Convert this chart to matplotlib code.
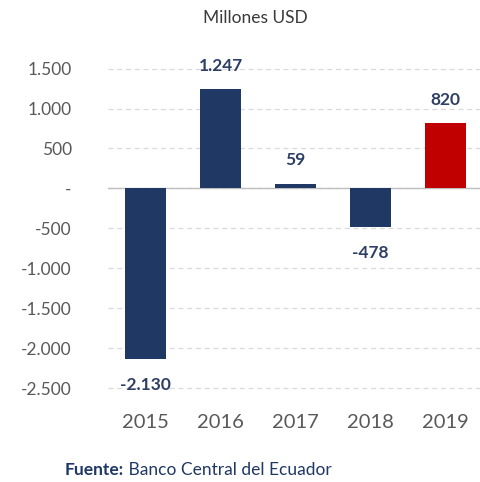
import matplotlib.pyplot as plt
from matplotlib.ticker import FuncFormatter

years = ['2015', '2016', '2017', '2018', '2019']
values = [-2130, 1247, 59, -478, 820]
bar_colors = ['#1F3864', '#1F3864', '#1F3864', '#1F3864', '#C00000']
yticks = [-2500, -2000, -1500, -1000, -500, 0, 500, 1000, 1500]

plt.rcParams['font.family'] = ['Lato', 'DejaVu Sans']

def fmt(v):
    # thousands with a dot, zero shown as a dash
    if v == 0:
        return '-'
    s = f'{abs(int(v)):,}'.replace(',', '.')
    return ('-' if v < 0 else '') + s

fig = plt.figure(figsize=(4.81, 4.82), dpi=100)
ax = fig.add_axes([0.2245, 0.17, 0.78, 0.725])

x = range(len(years))
ax.bar(x, values, width=0.55, color=bar_colors, zorder=3)

for xi, v in zip(x, values):
    off = 11 if v >= 0 else -13
    ax.annotate(fmt(v), (xi, v), xytext=(0, off), textcoords='offset points',
                ha='center', va='bottom' if v >= 0 else 'top',
                fontsize=12.5, fontweight='bold', color='#2E3F66')

ax.set_xlim(-0.5, 4.5)
ax.set_ylim(-2650, 1725)
ax.set_yticks(yticks)
ax.yaxis.set_major_formatter(FuncFormatter(lambda v, p: fmt(v)))
ax.set_xticks(list(x))
ax.set_xticklabels(years)

ax.grid(axis='y', color='#D9D9D9', linestyle=(0, (4, 3)), linewidth=0.9, zorder=0)
ax.axhline(0, color='#BFBFBF', linewidth=1.0, zorder=2)

for s in ax.spines.values():
    s.set_visible(False)
ax.tick_params(axis='both', length=0, labelsize=12.5, colors='#595959')
ax.tick_params(axis='y', pad=26)
ax.tick_params(axis='x', pad=10, labelsize=14.5)

fig.text(0.53, 0.962, 'Millones USD', ha='center', va='center',
         fontsize=12.5, color='#3A3A3A')
src = fig.text(0.135, 0.025, 'Fuente:', ha='left', va='center', fontsize=12.5,
               fontweight='bold', color='#1F3864')
ax.annotate(' Banco Central del Ecuador', xy=(1, 0.5), xycoords=src,
            ha='left', va='center', fontsize=12.5, color='#1F3864',
            annotation_clip=False)

fig.savefig('out.png', dpi=100, facecolor='white')
